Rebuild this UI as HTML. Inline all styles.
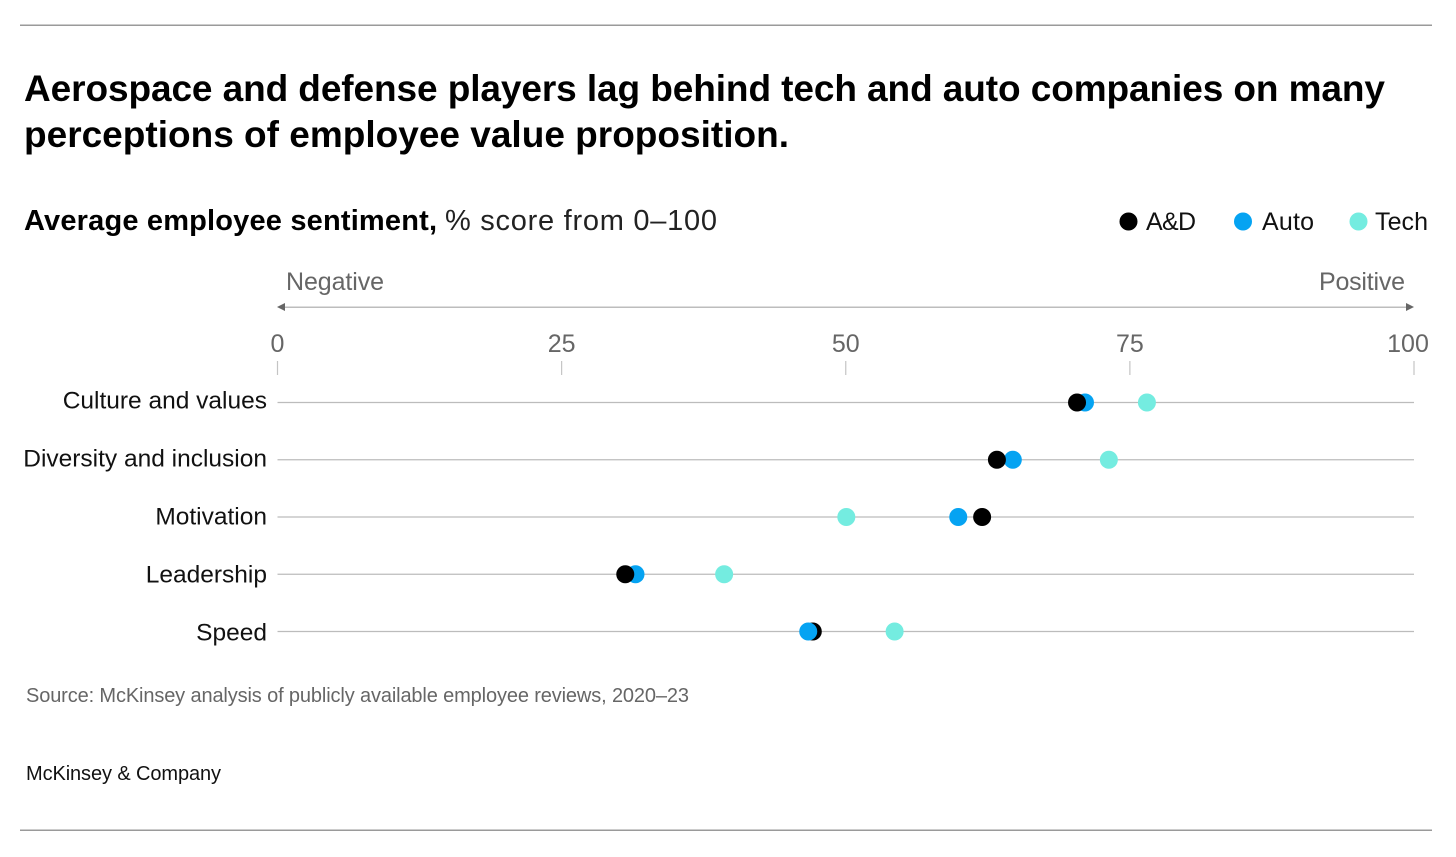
<!DOCTYPE html>
<html lang="en">
<head>
<meta charset="utf-8">
<title>Average employee sentiment</title>
<style>
html,body{margin:0;padding:0;background:#fff;}
svg{display:block;font-family:"Liberation Sans",sans-serif;}
</style>
</head>
<body>
<svg id="chart" width="1456" height="857" viewBox="0 0 1456 857" xmlns="http://www.w3.org/2000/svg">
  <rect width="1456" height="857" fill="#fff"/>
  <rect x="20" y="24.5" width="1412" height="1.5" fill="#9a9a9a"/>
  <rect x="20" y="829.5" width="1412" height="1.5" fill="#9a9a9a"/>

  <text x="24" y="101" font-size="37" font-weight="700" fill="#000" textLength="1361" lengthAdjust="spacing">Aerospace and defense players lag behind tech and auto companies on many</text>
  <text x="24" y="147" font-size="37" font-weight="700" fill="#000" textLength="765" lengthAdjust="spacing">perceptions of employee value proposition.</text>

  <text x="24" y="230" font-size="29" font-weight="700" fill="#000" textLength="413" lengthAdjust="spacing">Average employee sentiment,</text>
  <text x="445" y="230" font-size="29" fill="#222" textLength="272" lengthAdjust="spacing">% score from 0–100</text>

  <g>
    <circle cx="1128.5" cy="221.5" r="9" fill="#000"/>
    <text x="1146" y="230" font-size="25" fill="#111" textLength="50" lengthAdjust="spacing">A&amp;D</text>
    <circle cx="1243" cy="221.5" r="9" fill="#05a3f2"/>
    <text x="1262" y="230" font-size="25" fill="#111" textLength="52" lengthAdjust="spacing">Auto</text>
    <circle cx="1358.5" cy="221.5" r="9" fill="#74ece0"/>
    <text x="1375" y="230" font-size="25" fill="#111" textLength="53" lengthAdjust="spacing">Tech</text>
  </g>

  <g>
    <text x="286" y="290" font-size="25" fill="#666" textLength="98" lengthAdjust="spacing">Negative</text>
    <text x="1319" y="290" font-size="25" fill="#666" textLength="86" lengthAdjust="spacing">Positive</text>
    <rect x="280" y="306.5" width="1130" height="1.5" fill="#bdbdbd"/>
    <polygon points="277,307 285,303 285,311" fill="#666"/>
    <polygon points="1414,307 1406,303 1406,311" fill="#666"/>
  </g>

  <g id="axis"></g>
  <g id="rows"></g>
  <g id="marks"></g>

  <text x="26" y="702" font-size="20" fill="#666" textLength="663" lengthAdjust="spacing">Source: McKinsey analysis of publicly available employee reviews, 2020–23</text>
  <text x="26" y="780" font-size="20" fill="#111" textLength="195" lengthAdjust="spacing">McKinsey &amp; Company</text>
</svg>
<script>
var categories = ["Culture and values", "Diversity and inclusion", "Motivation", "Leadership", "Speed"];
var seriesNames = ["A&D", "Auto", "Tech"];
var adValues = [70.35, 63.3, 62, 30.6, 47.1];
var autoValues = [71.05, 64.7, 59.9, 31.5, 46.7];
var techValues = [76.5, 73.15, 50.05, 39.3, 54.3];
var tickLabels = [0, 25, 50, 75, 100];

var NS = "http://www.w3.org/2000/svg";
var seriesColors = ["#000000", "#05a3f2", "#74ece0"];
var seriesData = [adValues, autoValues, techValues];

function xScale(v) { return 277.5 + (v / 100) * 1136.5; }
function yScale(i) { return 402.5 + i * 57.25; }
function labelY(i) { return 408.5 + i * 58; }
function make(tag, attrs, parent) {
  var el = document.createElementNS(NS, tag);
  for (var k in attrs) { el.setAttribute(k, attrs[k]); }
  parent.appendChild(el);
  return el;
}

var axis = document.getElementById("axis");
tickLabels.forEach(function (t) {
  var x = xScale(t);
  var tick = make("line", {x1: x, x2: x, y1: 361, y2: 375, stroke: "#c4c4c4", "stroke-width": 1.2}, axis);
  
  
  var label = make("text", {x: t === 100 ? x - 6 : x, y: 352, "font-size": 25, fill: "#666", "text-anchor": "middle"}, axis);
  label.textContent = String(t);
  
  
});

var rows = document.getElementById("rows");
categories.forEach(function (c, i) {
  var y = yScale(i);
  var line = make("line", {x1: xScale(0), x2: xScale(100), y1: y, y2: y, stroke: "#bcbcbc", "stroke-width": 1.3}, rows);
  
  
  var label = make("text", {x: 267, y: labelY(i), "font-size": 24.5, fill: "#111", "text-anchor": "end"}, rows);
  label.textContent = c;
  
  
});

var marks = document.getElementById("marks");
categories.forEach(function (c, i) {
  // Higher values are painted first, so the lower value sits on top where dots overlap.
  var order = [0, 1, 2].sort(function (a, b) { return seriesData[b][i] - seriesData[a][i]; });
  order.forEach(function (s) {
    var dot = make("circle", {cx: xScale(seriesData[s][i]), cy: yScale(i), r: 9, fill: seriesColors[s]}, marks);
    
    
    dot.setAttribute('aria-label', c + " " + seriesNames[s]);
  });
});
</script>
</body>
</html>
